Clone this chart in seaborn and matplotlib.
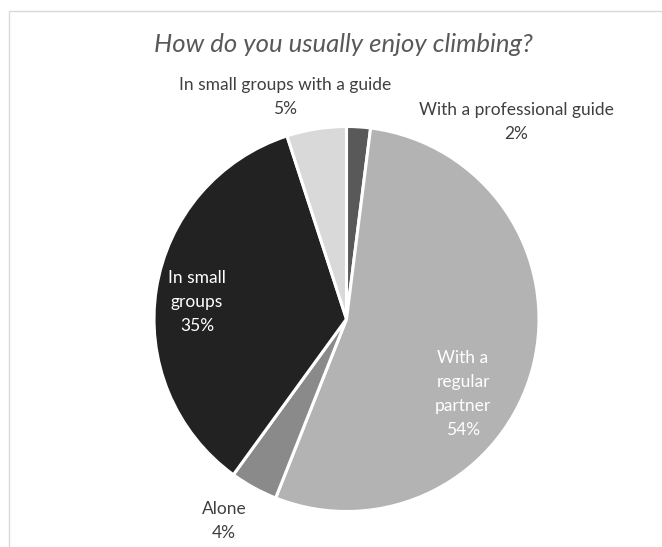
import matplotlib
matplotlib.use("Agg")
import matplotlib.pyplot as plt
import seaborn as sns
from matplotlib.patches import Rectangle

sns.set_theme(style="white")
plt.rcParams['font.family'] = ['Lato', 'DejaVu Sans']

# Data
categories = ["With a professional guide", "With a regular partner", "Alone",
              "In small groups", "In small groups with a guide"]
values = [2, 54, 4, 35, 5]
label_texts = ["With a professional guide\n2%", "With a\nregular\npartner\n54%",
               "Alone\n4%", "In small\ngroups\n35%", "In small groups with a guide\n5%"]
colors = ["#595959", "#b3b3b3", "#8a8a8a", "#222222", "#d9d9d9"]
text_colors = ["#404040", "white", "#404040", "white", "#404040"]

W, H = 662, 547
fig = plt.figure(figsize=(W / 100, H / 100), dpi=100)
fig.patch.set_facecolor("white")

# chart border
fig.add_artist(Rectangle((9 / W, -0.1), 1.2, 1 - 11 / H + 0.1, transform=fig.transFigure,
                         fill=False, edgecolor="#d9d9d9", linewidth=1.0))

cx, cy, R = 346.5, 319, 192.5
ax = fig.add_axes([(cx - R) / W, (H - cy - R) / H, 2 * R / W, 2 * R / H])
ax.pie(values, colors=colors, startangle=90, counterclock=False, radius=1,
       wedgeprops=dict(edgecolor="white", linewidth=2.2))
ax.set_xlim(-1, 1)
ax.set_ylim(-1, 1)
ax.set_aspect("equal")
ax.axis("off")

# label positions (pixel centers)
label_px = [(516, 122), (463, 394), (224, 521), (197, 302), (285, 97)]
for txt, (px, py), tc in zip(label_texts, label_px, text_colors):
    ax.text((px - cx) / R, (cy - py) / R, txt, ha="center", va="center",
            fontsize=12.5, color=tc, linespacing=1.6, clip_on=False)

fig.text(343 / W, 1 - 45 / H, "How do you usually enjoy climbing?", ha="center", va="center",
         fontsize=18.5, style="italic", color="#595959")

fig.savefig("out.png", dpi=100)
